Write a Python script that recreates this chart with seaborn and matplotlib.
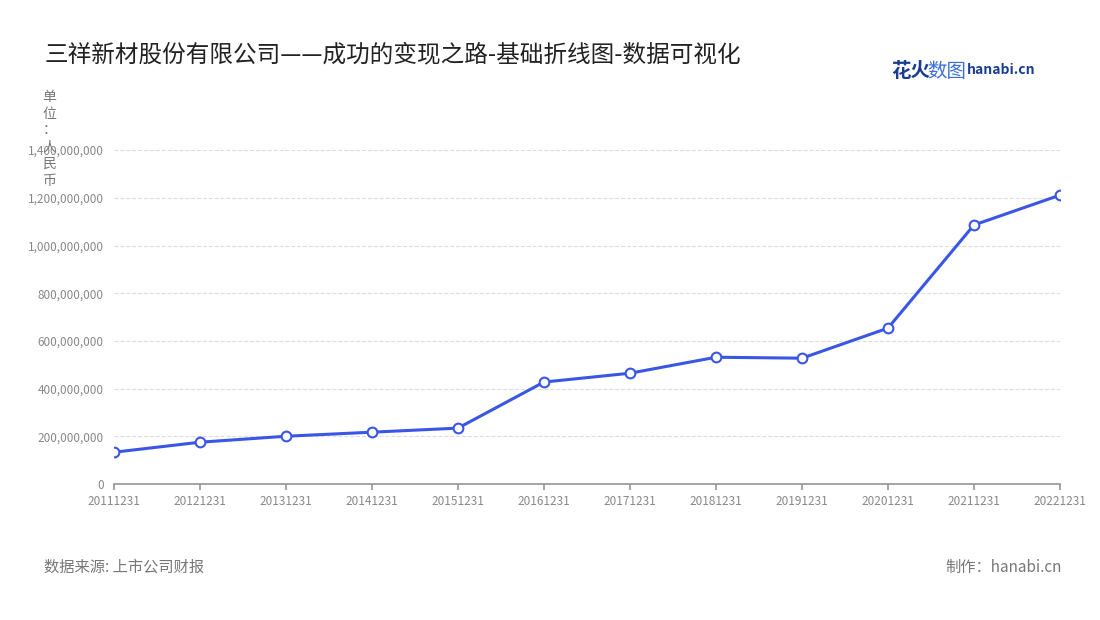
import matplotlib
matplotlib.use("Agg")
import matplotlib.pyplot as plt
import seaborn as sns
import pandas as pd
from matplotlib.ticker import FuncFormatter

years = ["20111231", "20121231", "20131231", "20141231", "20151231", "20161231",
         "20171231", "20181231", "20191231", "20201231", "20211231", "20221231"]
values = [134e6, 176e6, 201e6, 218e6, 235e6, 428e6,
          465e6, 532e6, 528e6, 654e6, 1086e6, 1211e6]

df = pd.DataFrame({"date": years, "value": values})

sns.set_theme(style="white")
plt.rcParams['font.family'] = ['Noto Sans CJK SC', 'DejaVu Sans']

fig = plt.figure(figsize=(11, 6.2), dpi=100)
ax = fig.add_axes([0.1036, 0.219, 0.86, 0.539])

sns.lineplot(data=df, x="date", y="value", ax=ax, color="#3a56e4", linewidth=2.2,
             marker="o", markersize=7, markerfacecolor="white",
             markeredgecolor="#3a56e4", markeredgewidth=1.5, sort=False)

ax.set_xlim(0, len(years) - 1)
ax.set_ylim(0, 1.4e9)
ax.set_yticks([i * 2e8 for i in range(8)])
ax.yaxis.set_major_formatter(FuncFormatter(lambda v, p: f"{int(v):,}"))
ax.grid(axis="y", linestyle="--", color="#dddddd", linewidth=0.8)
ax.tick_params(axis="both", labelsize=8.5, colors="#888888", length=4)
ax.tick_params(axis="x", bottom=True, color="#999999")
for s in ["top", "right", "left"]:
    ax.spines[s].set_visible(False)
ax.spines["bottom"].set_color("#999999")
ax.set_xlabel("")
ax.set_ylabel("")

fig.text(0.04, 0.911, "三祥新材股份有限公司——成功的变现之路-基础折线图-数据可视化",
         fontsize=17, color="#222222", va="center")
fig.text(0.045, 0.855, "单\n位\n：\n人\n民\n币", fontsize=10, color="#777777",
         va="top", ha="center", linespacing=1.25)
fig.text(0.04, 0.085, "数据来源: 上市公司财报", fontsize=11, color="#777777", va="center")
fig.text(0.965, 0.085, "制作：hanabi.cn", fontsize=11, color="#777777", va="center", ha="right")
fig.text(0.81, 0.884, "花火", fontsize=14, color="#1a3d8f", weight="bold", va="center")
fig.text(0.843, 0.884, "数图", fontsize=14, color="#3a6fd8", va="center")
fig.text(0.879, 0.887, "hanabi.cn", fontsize=10, color="#1a3d8f", weight="bold", va="center")

fig.savefig("out.png", dpi=100)
